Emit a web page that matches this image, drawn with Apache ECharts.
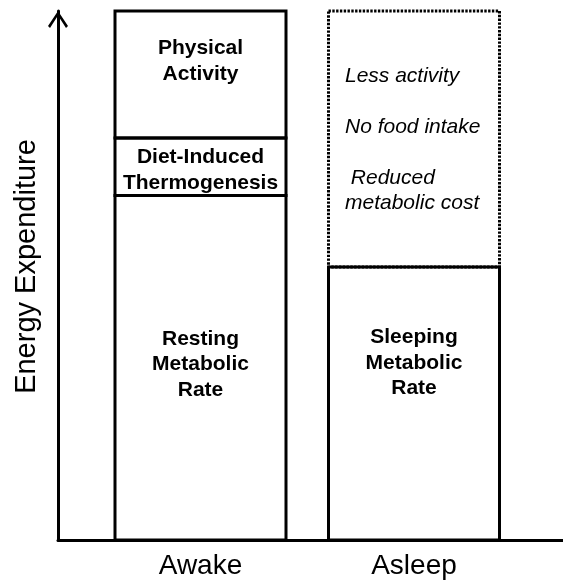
<!DOCTYPE html>
<html>
<head>
<meta charset="utf-8">
<script src="https://cdn.jsdelivr.net/npm/echarts@6/dist/echarts.min.js"></script>
<style>
  html, body { margin: 0; padding: 0; background: #fff; }
  #chart { width: 563px; height: 582px; }
</style>
</head>
<body>
<div id="chart"></div>
<script>
const categories = ['Awake', 'Asleep']

// stacked parts of each bar, bottom to top, in relative energy units (0-100)
const baseRate = [65.1, 51.6]
const dietInduced = [10.9, 0]
const upperPart = [24.0, 48.4]

const baseNames = ['Resting\nMetabolic\nRate', 'Sleeping\nMetabolic\nRate']
const dietNames = ['Diet-Induced\nThermogenesis', '']
const upperNames = ['Physical\nActivity', 'Less activity\n\nNo food intake\n\n Reduced\nmetabolic cost']

const fontFamily = '"Liberation Sans", Arial, sans-serif'
const barWidth = 171

// stack the parts per category: [category, start, end]
const segments = []
categories.forEach((cat, i) => {
  let start = 0
  const parts = [
    { value: baseRate[i], text: baseNames[i], kind: 'base' },
    { value: dietInduced[i], text: dietNames[i], kind: 'diet' },
    { value: upperPart[i], text: upperNames[i], kind: i === 0 ? 'upper' : 'missing' }
  ]
  parts.forEach((p) => {
    if (!p.value) return
    segments.push(Object.assign({ cat: i, start, end: start + p.value }, p))
    start += p.value
  })
})

function labelPlacement(seg) {
  if (seg.kind === 'base') return { position: 'insideTop', distance: seg.cat === 0 ? 133 : 60 }
  if (seg.kind === 'diet') return { position: 'inside', offset: [0, 3.5] }
  if (seg.kind === 'upper') return { position: 'insideTop', distance: 27 }
  return { position: [19, 54.5] }
}

function renderSegment(params, api) {
  const seg = segments[params.dataIndex]
  const p0 = api.coord([api.value(0), api.value(1)])
  const p1 = api.coord([api.value(0), api.value(2)])
  const missing = seg.kind === 'missing'
  return {
    type: 'rect',
    shape: {
      x: p0[0] - barWidth / 2,
      y: p1[1],
      width: barWidth,
      height: p0[1] - p1[1]
    },
    style: {
      fill: 'none',
      stroke: '#000',
      lineWidth: 3,
      lineDash: missing ? [2.4, 1.4] : null
    },
    textContent: {
      style: {
        text: seg.text,
        fill: '#000',
        fontFamily,
        fontSize: 21,
        fontWeight: missing ? 'normal' : 'bold',
        fontStyle: missing ? 'italic' : 'normal',
        lineHeight: 25.5,
        align: missing ? 'left' : 'center'
      }
    },
    textConfig: labelPlacement(seg)
  }
}

const chart = echarts.init(document.getElementById('chart'))

chart.setOption({
  animation: false,
  backgroundColor: '#fff',
  grid: [
    // bars
    { left: 93.75, right: 42.25, top: 11, bottom: 42 },
    // frame with the two axis lines
    { left: 58, right: 0, top: 11, bottom: 42 }
  ],
  xAxis: [
    {
      type: 'category',
      gridIndex: 0,
      data: categories,
      axisLine: { show: false },
      axisTick: { show: false },
      axisLabel: {
        color: '#000',
        fontFamily,
        fontSize: 28,
        margin: 12
      }
    },
    {
      type: 'value',
      gridIndex: 1,
      min: 0,
      max: 1,
      axisLine: {
        show: true,
        lineStyle: { color: '#000', width: 3 }
      },
      axisTick: { show: false },
      axisLabel: { show: false },
      splitLine: { show: false }
    }
  ],
  yAxis: [
    {
      type: 'value',
      gridIndex: 0,
      min: 0,
      max: 100,
      show: false
    },
    {
      type: 'value',
      gridIndex: 1,
      min: 0,
      max: 100,
      name: 'Energy Expenditure',
      nameLocation: 'middle',
      nameGap: 17,
      nameTextStyle: {
        color: '#000',
        fontFamily,
        fontSize: 29,
        padding: [0, 0, 0, 18]
      },
      axisLine: {
        show: true,
        symbol: ['none', 'path://M10,0 L20,15 L18,17 L10,4.5 L2,17 L0,15 Z'],
        symbolSize: [20, 17],
        symbolOffset: [0, -8.5],
        lineStyle: { color: '#000', width: 3 }
      },
      axisTick: { show: false },
      axisLabel: { show: false },
      splitLine: { show: false }
    }
  ],
  series: [
    {
      type: 'custom',
      xAxisIndex: 0,
      yAxisIndex: 0,
      clip: false,
      encode: { x: 0, y: [1, 2] },
      renderItem: renderSegment,
      data: segments.map((s) => [s.cat, s.start, s.end])
    }
  ]
})
</script>
</body>
</html>
